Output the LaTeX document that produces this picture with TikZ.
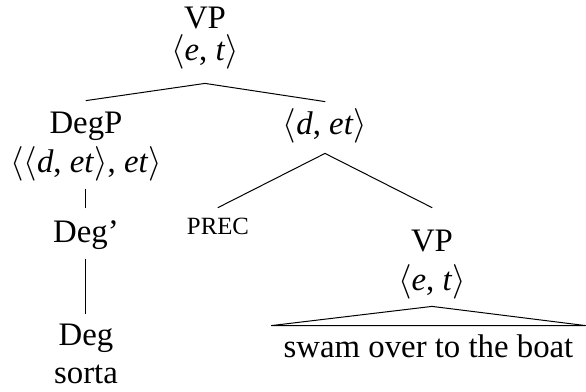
\documentclass[tikz,border=0pt]{standalone}
\usepackage{fontspec}
\setmainfont{Liberation Serif}
\begin{document}
\begin{tikzpicture}[x=0.5pt,y=-0.5pt,
  lbl/.style={anchor=base,inner sep=0pt,font=\fontsize{16.4}{20}\selectfont},
  sc/.style={anchor=base,inner sep=0pt,font=\fontsize{12.4}{15}\selectfont},
  edge/.style={line width=0.5pt,line cap=round}]
\useasboundingbox (0,0) rectangle (586,392);
% top
\node[lbl] (vp) at (205,28) {VP};
\node[lbl,text depth=11.5pt] (vpt) at (205,60) {$\langle$\textit{e}, \textit{t}$\rangle$};
% left branch
\node[lbl,text height=16pt,text depth=0pt] (degp) at (86,133) {DegP};
\node[lbl,text depth=8.5pt] (degpt) at (86,172) {$\langle\langle$\textit{d}, \textit{et}$\rangle$, \textit{et}$\rangle$};
\node[lbl,text height=17pt,text depth=8.5pt] (degbar) at (86,242) {Deg’};
\node[lbl,text height=15.5pt] (deg) at (86,345) {Deg};
\node[lbl] (sorta) at (86,383) {sorta};
% right branch
\node[lbl,text height=16pt,text depth=9.5pt] (dett) at (325,134) {$\langle$\textit{d}, \textit{et}$\rangle$};
\node[sc,text height=13pt] (prec) at (218,234) {PREC};
\node[lbl,text height=21.5pt] (vp2) at (432,251) {VP};
\node[lbl,text depth=8pt] (vp2t) at (432,290) {$\langle$\textit{e}, \textit{t}$\rangle$};
\node[lbl,text height=15.5pt,inner xsep=6pt,minimum width=156.5pt] (swam) at (428.5,357) {swam over to the boat};
% connectors
\draw[edge] (degp.north) -- (vpt.south) -- (dett.north);
\draw[edge] (degpt.south) -- (degbar.north);
\draw[edge] (degbar.south) -- (deg.north);
\draw[edge] (prec.north) -- (dett.south) -- (vp2.north);
\draw[edge] (vp2t.south) -- (swam.north west) -- (swam.north east) -- cycle;
\end{tikzpicture}
\end{document}
